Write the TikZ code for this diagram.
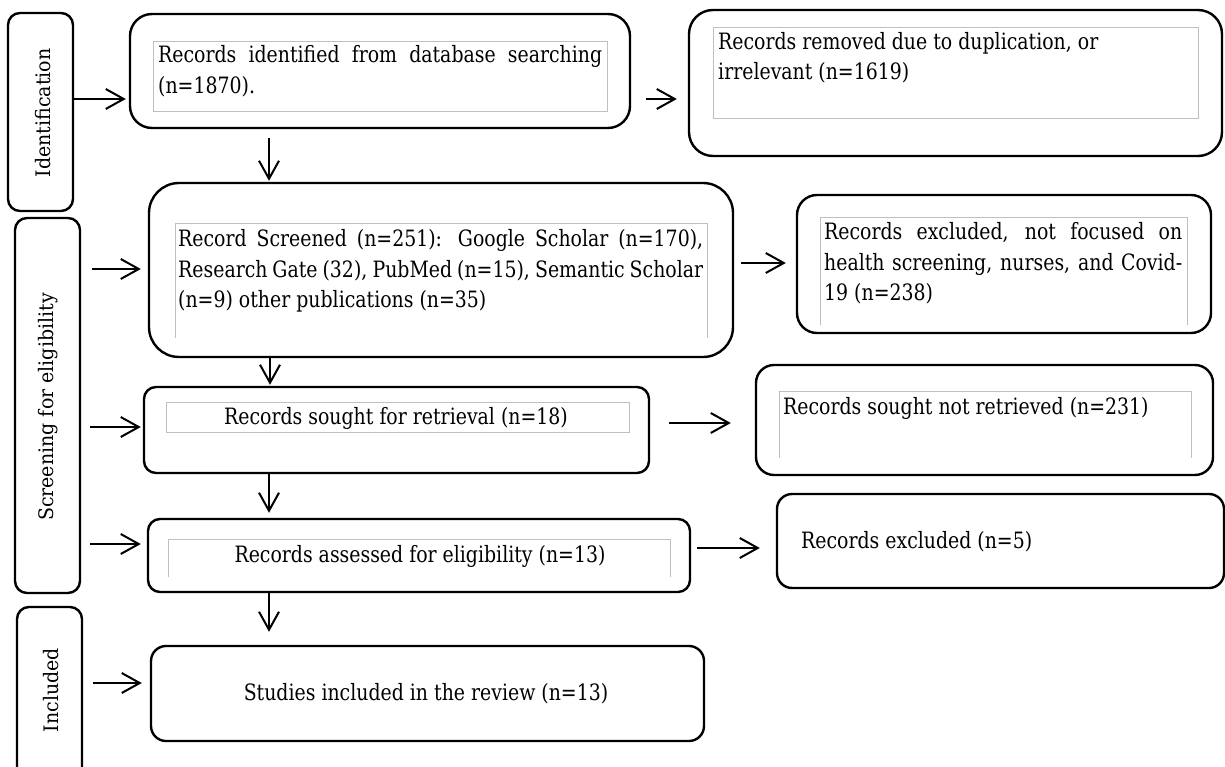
\documentclass[tikz,border=0pt]{standalone}
\usepackage{fontspec}
\setmainfont{DejaVu Serif}
\newfontfamily\boxfont[FakeStretch=0.84]{DejaVu Serif}
\newfontfamily\sidefont[FakeStretch=0.95]{DejaVu Serif}
\usetikzlibrary{arrows.meta}
\begin{document}
\begin{tikzpicture}[x=1pt,y=-1pt,
  box/.style={draw, line width=2.4pt, rounded corners=#1, inner sep=0pt},
  arr/.style={line width=2pt, -{Straight Barb[length=18pt,width=20pt,line width=2pt]}},
  grayframe/.style={draw=black!25, line width=1pt},
  txt/.style={font=\boxfont\fontsize{22.5}{26}\selectfont, inner sep=0pt, anchor=base west},
  ctxt/.style={font=\boxfont\fontsize{22.5}{26}\selectfont, inner sep=0pt, anchor=base},
  side/.style={font=\sidefont\fontsize{20}{24}\selectfont, rotate=90, inner sep=0pt, anchor=base}]
\useasboundingbox (0,0) rectangle (1225,767);
\clip (0,0) rectangle (1225,767);
% stage boxes
\node[box=12pt, minimum width=65pt, minimum height=198pt] (ident) at (40.5,112) {};
\node[box=12pt, minimum width=65pt, minimum height=375pt] (scr) at (47.5,405.5) {};
\node[box=12pt, minimum width=65pt, minimum height=213pt] (incl) at (49.5,713.5) {};
\node[side] (identt) at (50,113) {Identification};
\node[side] (scrt) at (53,407) {Screening for eligibility};
\node[side] (inclt) at (58,690) {Included};
% main boxes
\node[box=22pt, minimum width=500pt, minimum height=114pt] (b1) at (380,71) {};
\node[box=24pt, minimum width=533pt, minimum height=146pt] (r1) at (955.5,83) {};
\node[box=30pt, minimum width=584pt, minimum height=174pt] (b2) at (441,270) {};
\node[box=20pt, minimum width=414pt, minimum height=138pt] (r2) at (1004,264) {};
\node[box=12pt, minimum width=505pt, minimum height=86pt] (b3) at (396.5,430) {};
\node[box=18pt, minimum width=457pt, minimum height=110pt] (r3) at (984.5,420) {};
\node[box=12pt, minimum width=542pt, minimum height=73pt] (b4) at (419,555.5) {};
\node[box=15pt, minimum width=447pt, minimum height=94pt] (r4) at (1000.5,541) {};
\node[box=15pt, minimum width=553pt, minimum height=95pt] (b5) at (427.5,693.5) {};
% inner grey frames
\draw[grayframe] (153,42) rectangle (607,112);
\draw[grayframe] (713,28) rectangle (1198,119);
\draw[grayframe] (175,338) -- (175,224) -- (707,224) -- (707,338);
\draw[grayframe] (820,325) -- (820,218) -- (1187,218) -- (1187,325);
\draw[grayframe] (166,402) rectangle (629,432);
\draw[grayframe] (779,458) -- (779,391) -- (1191,391) -- (1191,458);
\draw[grayframe] (168,577) -- (168,539) -- (670,539) -- (670,577);
% texts
\node[txt] (b1a) at (158,63) {\makebox[444pt][s]{Records identified from database searching}};
\node[txt] (b1b) at (158,94) {(n=1870).};
\node[txt] (r1a) at (718,50) {Records removed due to duplication, or};
\node[txt] (r1b) at (718,80) {irrelevant (n=1619)};
\node[txt] (b2a) at (178,247) {\makebox[525pt][s]{Record Screened (n=251): Google Scholar (n=170),}};
\node[txt] (b2b) at (178,277) {\makebox[525pt][s]{Research Gate (32), PubMed (n=15), Semantic Scholar}};
\node[txt] (b2c) at (178,307) {(n=9) other publications (n=35)};
\node[txt] (r2a) at (824,240) {\makebox[358pt][s]{Records excluded, not focused on}};
\node[txt] (r2b) at (824,270) {\makebox[358pt][s]{health screening, nurses, and Covid-}};
\node[txt] (r2c) at (824,300) {19 (n=238)};
\node[ctxt] (b3t) at (396,424) {Records sought for retrieval (n=18)};
\node[txt] (r3t) at (783,414) {Records sought not retrieved (n=231)};
\node[ctxt] (b4t) at (420,562) {Records assessed for eligibility (n=13)};
\node[txt] (r4t) at (801,548) {Records excluded (n=5)};
\node[ctxt] (b5t) at (426,700) {Studies included in the review (n=13)};
% connectors
\draw[arr, shorten >=3pt] ([yshift=13pt]ident.east) coordinate (s1) -- (s1 -| b1.west);
\draw[arr, shorten <=15pt, shorten >=11pt] ([yshift=-28pt]b1.east) coordinate (s2) -- (s2 -| r1.west);
\draw[arr, shorten <=9pt, shorten >=1pt] ([xshift=-111pt]b1.south) coordinate (s3) -- (s3 |- b2.north);
\draw[arr, shorten <=11pt, shorten >=7pt] ([yshift=136.5pt]scr.east) coordinate (s4) -- (s4 -| b2.west);
\draw[arr, shorten <=7pt, shorten >=10pt] ([yshift=7pt]b2.east) coordinate (s5) -- (s5 -| r2.west);
\draw[arr, shorten >=1pt] ([xshift=-171pt]b2.south) coordinate (s6) -- (s6 |- b3.north);
\draw[arr, shorten <=9pt, shorten >=2pt] ([yshift=-21.5pt]scr.east) coordinate (s7) -- (s7 -| b3.west);
\draw[arr, shorten <=19pt, shorten >=24pt] ([yshift=7pt]b3.east) coordinate (s8) -- (s8 -| r3.west);
\draw[arr, shorten >=5pt] ([xshift=-127.5pt]b3.south) coordinate (s9) -- (s9 |- b4.north);
\draw[arr, shorten <=9pt, shorten >=6pt] ([yshift=-138.5pt]scr.east) coordinate (s10) -- (s10 -| b4.west);
\draw[arr, shorten <=6pt, shorten >=16pt] ([yshift=7.5pt]b4.east) coordinate (s11) -- (s11 -| r4.west);
\draw[arr, shorten >=13pt] ([xshift=-150pt]b4.south) coordinate (s12) -- (s12 |- b5.north);
\draw[arr, shorten <=10pt, shorten >=8pt] ([yshift=30.5pt]incl.east) coordinate (s13) -- (s13 -| b5.west);
\end{tikzpicture}
\end{document}
